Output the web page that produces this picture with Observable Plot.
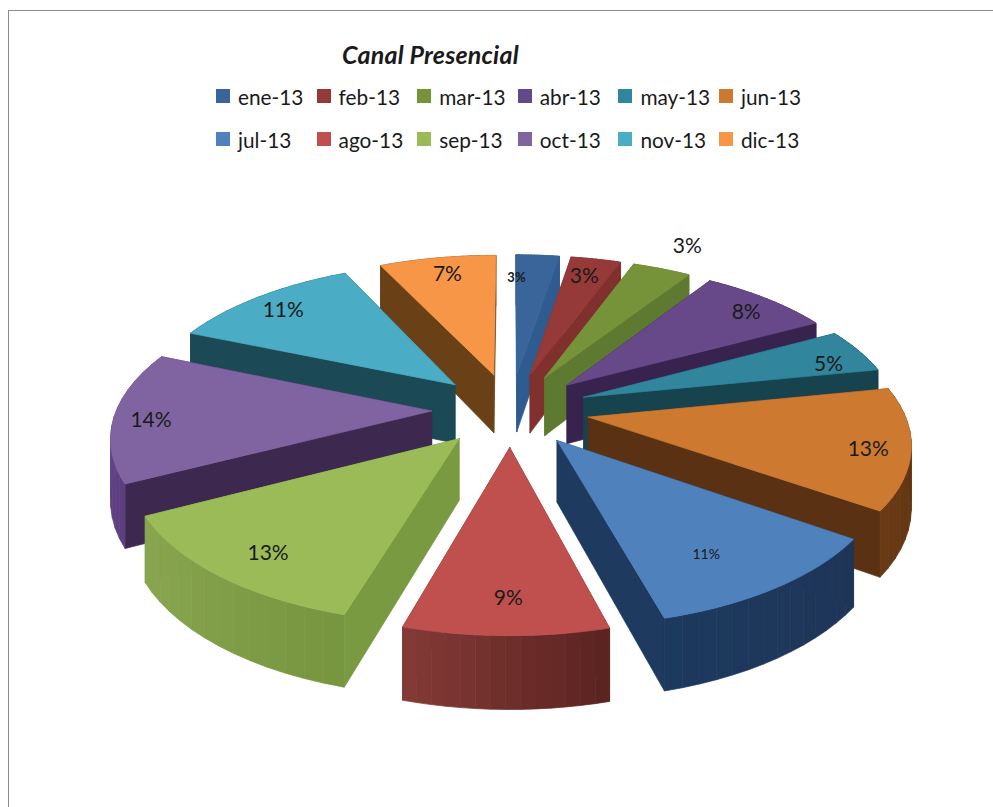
<!DOCTYPE html>
<html><head><meta charset="utf-8">
<script src="https://cdn.jsdelivr.net/npm/d3@7"></script>
<script src="https://cdn.jsdelivr.net/npm/@observablehq/plot@0.6"></script>
<style>
html,body{margin:0;padding:0;background:#fff}
#frame{position:relative;width:993px;height:807px;overflow:hidden;background:#fff;font-family:Lato,"Open Sans",sans-serif;color:#1a1a1a}
#frame:before{content:"";position:absolute;left:8px;top:10px;right:0;bottom:0;border-left:1.5px solid #8c8c8c;border-top:1.5px solid #8c8c8c;pointer-events:none}
#head{position:relative;height:165px}
#title{position:absolute;left:342px;top:39px;font-size:25px;font-weight:700;font-style:italic;letter-spacing:.2px}
#legend{position:absolute;left:216px;top:79px;display:grid;grid-template-columns:repeat(6,100.6px);grid-auto-rows:43px}
.it{display:flex;align-items:center;font-size:20.8px;white-space:nowrap;height:34px}
.sw{width:14px;height:14px;margin-right:8px;flex:none}
svg{display:block}
</style></head><body>
<div id="frame"><div id="head"><div id="title">Canal Presencial</div><div id="legend"></div></div><div id="chart"></div></div>
<script>
const months=["ene-13","feb-13","mar-13","abr-13","may-13","jun-13","jul-13","ago-13","sep-13","oct-13","nov-13","dic-13"];
const values=[2.6,3.0,3.5,7.9,4.7,12.8,11,8.6,12.8,13.9,11.5,7];
const percentLabels=["3%","3%","3%","8%","5%","13%","11%","9%","13%","14%","11%","7%"];
const topColors=["#3a659b","#953a38","#779339","#67498a","#31859c","#cd7a30","#4f81bd","#c0504d","#9bbb59","#8064a2","#4bacc6","#f79646"];
const legendColors=["#3a659b","#953a38","#779339","#604a8b","#31859c","#cd7a30","#4f81bd","#c0504d","#9bbb59","#8064a2","#4bacc6","#f79646"];
const sideColors=["#2e5c90","#80302d","#5e7a30","#38234f","#17434f","#5a3213","#1e3a5f","#5a2422","#7a9a42","#3d2850","#1b4a56","#6a4016"];
const wallStart=["#2e5c90","#80302d","#5e7a30","#38234f","#17434f","#6a3a14","#1c3a5e","#843a36","#8aa650","#6a4a90","#1b4a56","#6a4016"];
const wallEnd=["#2e5c90","#80302d","#5e7a30","#38234f","#17434f","#5a3213","#1f3557","#5a2320","#77953f","#5c3f7e","#1b4a56","#6a4016"];
// label placement inside each slice: radial fraction, position across the slice
const labelRadial=[.79,.83,1.24,.856,.858,.872,.764,.826,.834,.881,.85,.841];
const labelAcross=[.01,.46,.52,.56,.71,.54,.59,.49,.47,.46,.48,.52];
const labelSize=[13,21,21,21,21,21,14,21,21,21,21,21];
const labelWeight=[700,400,400,400,400,400,400,400,400,400,400,400];

const cx=510,cy=409,R=315,Ry=147,p=.15,depth=60,explode=.25;
const total=d3.sum(values);
function proj(u,v,z){const s=1/(1-p*v);return {X:cx+R*u*s,Y:cy+Ry*v*s+depth*z*s};}
let acc=0;
const slices=values.map((val,i)=>{const a0=acc/total*2*Math.PI;acc+=val;const a1=acc/total*2*Math.PI;
  const m=(a0+a1)/2;return {i,a0,a1,m,ex:explode*Math.sin(m),ey:-explode*Math.cos(m)};});
const polys=[];let pid=0;
function pushPoly(pts,color){const id=pid++;for(const q of [...pts,pts[0]])polys.push({id,X:q.X,Y:q.Y,color});}
const order=slices.slice().sort((a,b)=>a.ey-b.ey);
for(const s of order){
  const pt=(a,z)=>proj(s.ex+Math.sin(a),s.ey-Math.cos(a),z);
  const apex=z=>proj(s.ex,s.ey,z);
  const n=14,quads=[];
  for(let k=0;k<n;k++){const a=s.a0+(s.a1-s.a0)*k/n,b=s.a0+(s.a1-s.a0)*(k+1)/n;
    quads.push({a,b,front:Math.cos((a+b)/2)<0,t:(k+.5)/n});}
  const wall=q=>pushPoly([pt(q.a,0),pt(q.b,0),pt(q.b,1),pt(q.a,1)],
     d3.interpolateRgb(wallEnd[s.i],wallStart[s.i])(q.t));
  quads.filter(q=>!q.front).forEach(wall);
  pushPoly([apex(0),pt(s.a0,0),pt(s.a0,1),apex(1)],sideColors[s.i]);
  pushPoly([apex(0),pt(s.a1,0),pt(s.a1,1),apex(1)],sideColors[s.i]);
  quads.filter(q=>q.front).forEach(wall);
  const top=[apex(0)];for(let k=0;k<=40;k++)top.push(pt(s.a0+(s.a1-s.a0)*k/40,0));
  pushPoly(top,topColors[s.i]);
}
const labels=slices.map(s=>{const a=s.a0+(s.a1-s.a0)*labelAcross[s.i],r=labelRadial[s.i];
  const q=proj(s.ex+r*Math.sin(a),s.ey-r*Math.cos(a),0);
  return {...q,text:percentLabels[s.i],size:labelSize[s.i],weight:labelWeight[s.i]};});

const legend=d3.select("#legend");
months.forEach((m,i)=>{const it=legend.append("div").attr("class","it");
  it.append("span").attr("class","sw").style("background",legendColors[i]);it.append("span").text(m);});

const plot=Plot.plot({width:993,height:642,margin:0,
  x:{domain:[0,993],range:[0,993],axis:null},y:{domain:[165,807],range:[0,642],axis:null},
  color:{type:"identity"},style:{background:"transparent",overflow:"visible"},
  marks:[
   Plot.line(polys,{x:"X",y:"Y",z:"id",fill:"color",stroke:"color",strokeWidth:.7,curve:"linear"}),
   ...labels.map(l=>Plot.text([l],{x:"X",y:"Y",text:"text",fontSize:l.size,fontWeight:l.weight,fill:"#1a1a1a",fontFamily:"Lato,'Open Sans',sans-serif"}))
  ]});
document.getElementById("chart").appendChild(plot);
</script></body></html>
